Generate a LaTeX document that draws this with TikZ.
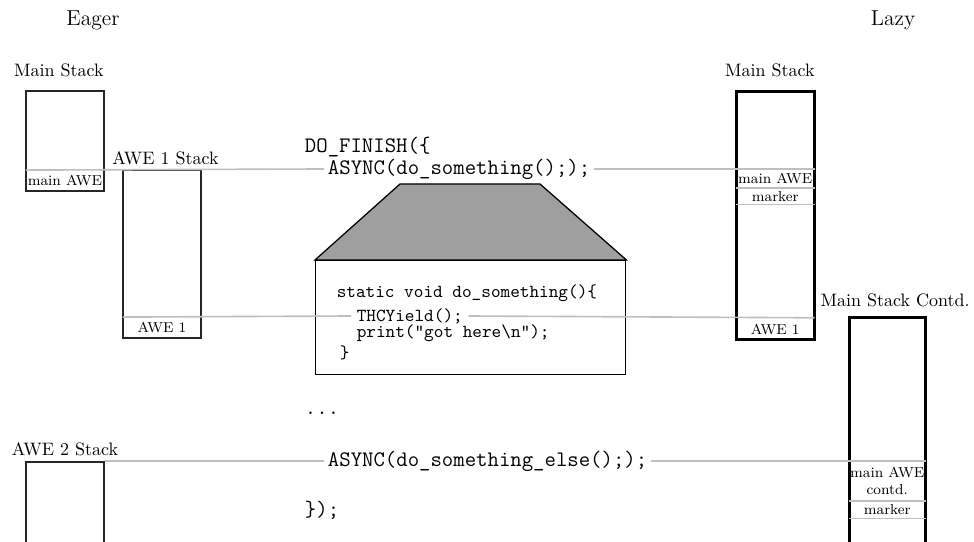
\documentclass[tikz,border=0pt]{standalone}
\usepackage{fontspec}
\usetikzlibrary{positioning}

\newcommand{\px}{0.5555pt}

\tikzset{
  stack/.style={draw=black!85, line width=1pt, inner sep=0pt, minimum width=78*\px},
  lazystack/.style={stack, draw=black, line width=1.4pt},
  field/.style={font=\footnotesize, inner sep=0pt, minimum width=78*\px},
  sep/.style={draw=black!25, line width=0.9pt},
  code/.style={font=\ttfamily\fontsize{12.3}{14}\selectfont, inner sep=2pt},
  smallcode/.style={font=\ttfamily\fontsize{10.2}{12}\selectfont, inner sep=3pt}
}

\begin{document}
\begin{tikzpicture}[x=\px, y=-\px]
  \useasboundingbox (0,0) rectangle (974,542);
  \clip (0,0) rectangle (974,542);

  \node[font=\large] (eager) at (93,20)  {Eager};
  \node[font=\large] (lazy)  at (893,20) {Lazy};

  % the code in the middle
  \node[code, anchor=west] (dofinish) at (301,147) {DO\_FINISH(\{};
  \node[code, anchor=west] (async1)   at (324,169) {ASYNC(do\_something(););};
  \node[code, anchor=west] (dots)     at (301,413) {...};
  \node[code, anchor=west] (async2)   at (324,461) {ASYNC(do\_something\_else(););};
  \node[code, anchor=west] (close)    at (301,510) {\});};

  \node[draw, line width=0.8pt, minimum width=310*\px, minimum height=114*\px,
        anchor=north west] (fnbox) at (315,260) {};
  \draw[line width=0.7pt, fill=gray!75] (400,184) -- (540,184)
        -- (fnbox.north east) -- (fnbox.north west) -- cycle;

  \node[smallcode, anchor=west] (fnhead)  at (331,293) {static void do\_something()\{};
  \node[smallcode, anchor=west] (thcy)    at (351,316) {THCYield();};
  \node[smallcode, anchor=west] (print)   at (351,333) {print("got here\textbackslash n");};
  \node[smallcode, anchor=west] (fnclose) at (334,353) {\}};

  % eager stacks
  \node[stack, minimum height=100*\px, anchor=north west] (mainE) at (25,90) {};
  \node[above=3.7pt of mainE, xshift=-3.3pt] (mainElbl) {Main Stack};
  \node[field, minimum height=21*\px, anchor=south] (mainAWEE) at (mainE.south) {main AWE};

  \node[stack, minimum height=168*\px, anchor=north west] (awe1E) at (122,169) {};
  \node[above=-1.5pt of awe1E, xshift=2pt] (awe1Elbl) {AWE 1 Stack};
  \node[field, minimum height=21*\px, anchor=south] (awe1fE) at (awe1E.south) {AWE 1};

  \node[stack, minimum height=120*\px, anchor=north west] (awe2E) at (25,461) {};
  \node[above=-0.5pt of awe2E] (awe2Elbl) {AWE 2 Stack};

  % lazy stacks
  \node[lazystack, minimum height=248*\px, anchor=north west] (mainL) at (735,90) {};
  \node[above=3.7pt of mainL, xshift=-3pt] (mainLlbl) {Main Stack};
  \node[field, minimum height=18*\px, anchor=north] (mainAWEL) at (mainL.north |- 0,169) {main AWE};
  \node[field, minimum height=16*\px, below=0pt of mainAWEL] (markerL) {marker};
  \node[field, minimum height=22*\px, anchor=south] (awe1L) at (mainL.south) {AWE 1};

  \node[lazystack, minimum width=76*\px, minimum height=250*\px, anchor=north west] (contd) at (848,316) {};
  \node[above=1.7pt of contd, xshift=4.4pt] (contdlbl) {Main Stack Contd.};
  \node[field, minimum width=76*\px, minimum height=39*\px, align=center, anchor=north]
       (mainAWEC) at (contd.north |- 0,461) {main AWE\\contd.};
  \node[field, minimum width=76*\px, minimum height=17*\px, below=0pt of mainAWEC] (markerC) {marker};

  % separators
  \draw[sep] (mainAWEE.north west) -- (async1.west);
  \draw[sep] (async1.east) -- (mainAWEL.north east);
  \draw[sep] (mainAWEL.south west) -- (mainAWEL.south east);
  \draw[sep] (markerL.south west) -- (markerL.south east);
  \draw[sep] (awe1fE.north west) -- (thcy.west);
  \draw[sep] (thcy.east) -- (awe1L.north east);
  \draw[sep] (awe2E.north east) -- (async2.west);
  \draw[sep] (async2.east) -- (mainAWEC.north east);
  \draw[sep] (mainAWEC.south west) -- (mainAWEC.south east);
  \draw[sep] (markerC.south west) -- (markerC.south east);
\end{tikzpicture}
\end{document}
